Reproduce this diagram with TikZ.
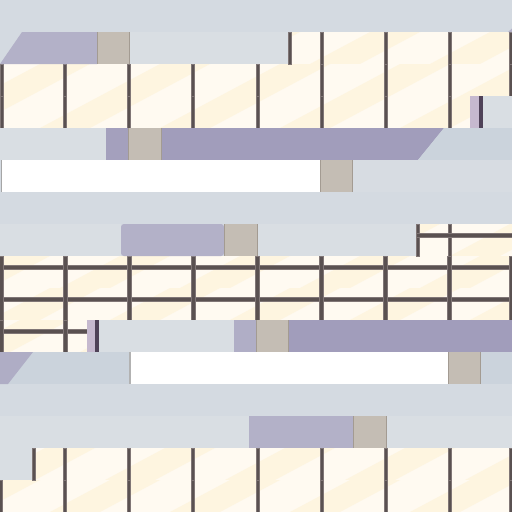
\documentclass[tikz,border=0pt]{standalone}
\definecolor{bg}{HTML}{D4DAE1}
\definecolor{lgrey}{HTML}{D9DEE3}
\definecolor{grey2}{HTML}{CBD3DC}
\definecolor{lav}{HTML}{B3B1C8}
\definecolor{purp}{HTML}{A19DBB}
\definecolor{beige}{HTML}{C4BDB4}
\definecolor{beigeedge}{HTML}{A39B92}
\definecolor{cream}{HTML}{FEF5E0}
\definecolor{creamlt}{HTML}{FFFAF1}
\definecolor{mull}{HTML}{5A5151}
\definecolor{mulledge}{HTML}{807676}
\definecolor{pink}{HTML}{C6B9CF}
\definecolor{dpurp}{HTML}{4F4258}
\tikzset{
  win/.style={fill=creamlt},
  streak/.style={fill=cream},
  mullion/.style={fill=mull, draw=mulledge, line width=0.6pt},
  beigeblock/.style={fill=beige},
  beigeline/.style={draw=beigeedge, line width=1pt},
}
\newcommand{\beigeblk}[4]{\fill[beigeblock] (#1,#2) rectangle (#3,#4);
  \draw[beigeline] (#1+0.5,#2) -- (#1+0.5,#4); \draw[beigeline] (#3-0.5,#2) -- (#3-0.5,#4);}
\begin{document}
\begin{tikzpicture}[x=1pt,y=-1pt]
\useasboundingbox (0,0) rectangle (512,512);
\fill[bg] (0,0) rectangle (512,512);

% ---------- window areas with streaks ----------
\foreach \xa/\ya/\xb/\yb/\o in {288/32/512/64/10, 0/64/512/96/40, 0/96/470/128/-20, 416/224/512/256/30,
  0/256/512/288/0, 0/288/512/320/50, 0/320/87/352/20, 32/448/512/480/45, 0/480/512/512/-10}{
  \begin{scope}
    \clip (\xa,\ya) rectangle (\xb,\yb);
    \fill[win] (\xa,\ya) rectangle (\xb,\yb);
    \foreach \s in {-60,60,180,300,420,540}{
      \fill[streak] (\s+\o,\yb) -- (\s+\o+50,\yb) -- (\s+\o+110,\ya) -- (\s+\o+60,\ya) -- cycle;
    }
  \end{scope}
}

% ---------- mullions ----------
% band 1
\foreach \c in {289.5,321.5,385.5,449.5,511}{\fill[mullion] (\c-1.6,32) rectangle (\c+1.6,64);}
% band 2
\foreach \c in {1.5,65,129,193,257.5,321.5,385.5,449.5,511}{\fill[mullion] (\c-1.6,64) rectangle (\c+1.6,96);}
% band 3
\foreach \c in {1.5,65,129,193,257.5,321.5,385.5,449.5}{\fill[mullion] (\c-1.6,96) rectangle (\c+1.6,128);}
\fill[pink] (470,96) rectangle (479,128);
\fill[dpurp] (479,96) rectangle (483,128);
\fill[lgrey] (483,96) rectangle (512,128);
% band 7 windows
\foreach \c in {417.5,449.5}{\fill[mullion] (\c-1.6,224) rectangle (\c+1.6,256);}
\fill[mullion] (416,233.5) rectangle (512,237);
% bands 8-9
\fill[mullion] (0,265) rectangle (512,269);
\fill[mullion] (0,297) rectangle (512,301);
\foreach \c in {1.5,65,129,193,257.5,321.5,385.5,449.5,511}{\fill[mullion] (\c-2,256) rectangle (\c+2,320);}
% band 10 left
\fill[mullion] (0,329) rectangle (87,333);
\foreach \c in {1.5,65}{\fill[mullion] (\c-2,320) rectangle (\c+2,352);}
\fill[pink] (87,320) rectangle (95,352);
\fill[dpurp] (95,320) rectangle (99,352);
% bands 14-15
\foreach \c in {33.5,65,129,193,257.5,321.5,385.5,449.5,511}{\fill[mullion] (\c-1.6,448) rectangle (\c+1.6,480);}
\foreach \c in {1,65,129,193,257.5,321.5,385.5,449.5,511}{\fill[mullion] (\c-1.6,480) rectangle (\c+1.6,512);}

% ---------- band 1 ----------
\fill[lav] (22,32) -- (97,32) -- (97,64) -- (0,64) -- cycle;
\beigeblk{97}{32}{130}{64}
\fill[lgrey] (130,32) rectangle (288,64);
\fill[lav] (508,32) -- (512,28.5) -- (512,32) -- cycle;

% ---------- band 4 ----------
\fill[lgrey] (0,128) rectangle (106,160);
\fill[purp!85!lav] (106,128) rectangle (128,160);
\beigeblk{128}{128}{162}{160}
\fill[purp] (162,128) -- (444,128) -- (418,160) -- (162,160) -- cycle;
\fill[grey2] (444,128) -- (512,128) -- (512,160) -- (418,160) -- cycle;

% ---------- band 5 ----------
\fill[white] (2,160) rectangle (320,192);
\fill[gray!70] (0.5,160) rectangle (2,192);
\beigeblk{320}{160}{353}{192}
\fill[lgrey!60!bg] (353,160) rectangle (512,192);

% ---------- band 7 ----------
\fill[lgrey] (0,224) rectangle (121,256);
\fill[lav, rounded corners=3pt] (121,256) -- (121,224) -- (224,224) -- (224,256) -- cycle;
\beigeblk{224}{224}{258}{256}
\fill[lgrey] (258,224) rectangle (416,256);

% ---------- band 10 ----------
\fill[lgrey] (99,320) rectangle (234,352);
\fill[lav!85!purp] (234,320) rectangle (256,352);
\beigeblk{256}{320}{289}{352}
\fill[purp] (289,320) rectangle (512,352);

% ---------- band 11 ----------
\fill[grey2] (0,352) rectangle (130,384);
\fill[lav!80!purp] (0,352) -- (33,352) -- (8,384) -- (0,384) -- cycle;
\fill[gray!60] (129,352) rectangle (131,384);
\fill[white] (131,352) rectangle (448,384);
\beigeblk{448}{352}{481}{384}
\fill[grey2] (481,352) rectangle (512,384);

% ---------- band 13 ----------
\fill[lgrey] (0,416) rectangle (249,448);
\fill[lav] (249,416) rectangle (353,448);
\beigeblk{353}{416}{387}{448}
\fill[lgrey] (387,416) rectangle (512,448);
\fill[lgrey] (0,448) rectangle (32,480);
\end{tikzpicture}
\end{document}
